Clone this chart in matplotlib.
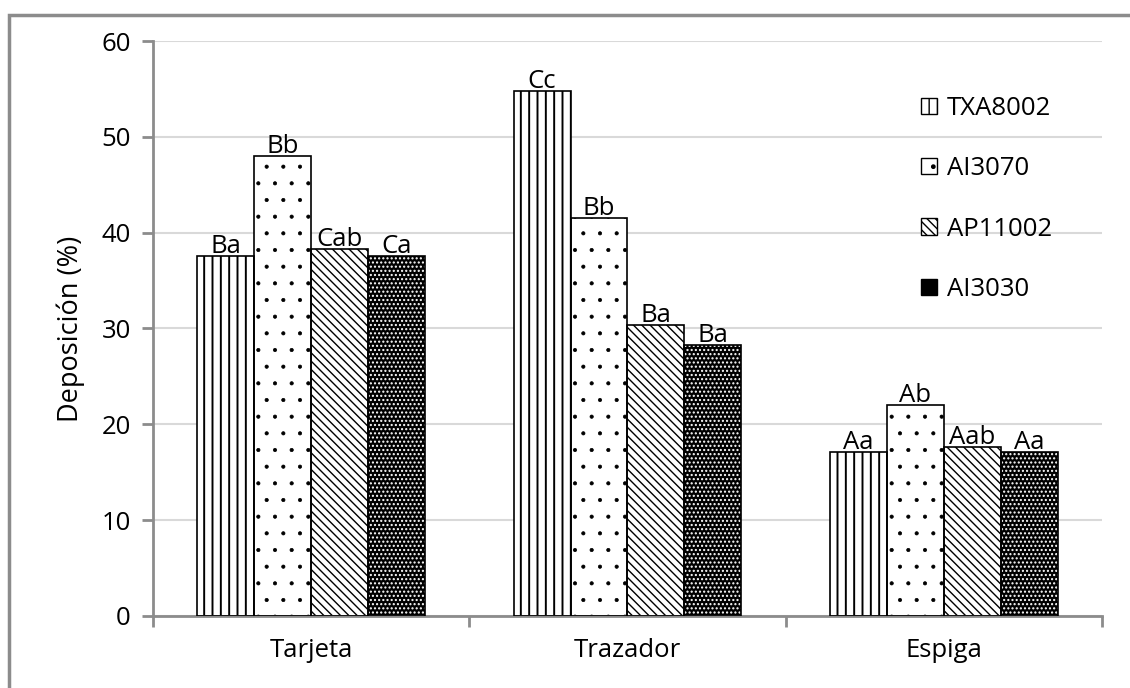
import numpy as np
import matplotlib.pyplot as plt
from matplotlib.patches import Rectangle

categories = ['Tarjeta', 'Trazador', 'Espiga']
series_names = ['TXA8002', 'AI3070', 'AP11002', 'AI3030']
txa8002 = [37.6, 54.8, 17.1]
ai3070 = [48.0, 41.5, 22.0]
ap11002 = [38.3, 30.4, 17.6]
ai3030 = [37.6, 28.3, 17.1]
letters_txa8002 = ['Ba', 'Cc', 'Aa']
letters_ai3070 = ['Bb', 'Bb', 'Ab']
letters_ap11002 = ['Cab', 'Ba', 'Aab']
letters_ai3030 = ['Ca', 'Ba', 'Aa']

plt.rcParams['font.family'] = ['Open Sans', 'DejaVu Sans']
FS = 18.5

fig = plt.figure(figsize=(11.3, 6.88), dpi=100)
ax = fig.add_axes([0.1354, 0.1047, 0.9752 - 0.1354, 0.9404 - 0.1047])

# marco exterior gris (solo visible arriba e izquierda)
fig.patches.append(Rectangle((9 / 1130, -0.05), 1.2, (688 - 15) / 688 + 0.05,
                             transform=fig.transFigure, fill=False,
                             edgecolor='#8c8c8c', linewidth=2.5))

x = np.arange(len(categories))
w = 0.18
values = [txa8002, ai3070, ap11002, ai3030]
letters = [letters_txa8002, letters_ai3070, letters_ap11002, letters_ai3030]
hatches = ['||', '.', '\\\\\\\\', '....']
faces = ['white', 'white', 'white', 'black']
hatch_cols = ['black', 'black', 'black', 'white']
hatch_lw = [1.4, 0.5, 1.0, 1.0]


def set_hlw(patch, lw):
    if hasattr(patch, 'set_hatch_linewidth'):
        patch.set_hatch_linewidth(lw)


handles = []
for i, (vals, labs) in enumerate(zip(values, letters)):
    pos = x + (i - 1.5) * w
    bars = ax.bar(pos, vals, w, facecolor=faces[i], edgecolor=hatch_cols[i],
                  hatch=hatches[i], linewidth=0, zorder=2)
    for b in bars:
        set_hlw(b, hatch_lw[i])
    ax.bar(pos, vals, w, fill=False, edgecolor='black', linewidth=1.2,
           zorder=3)
    for p, v, t in zip(pos, vals, labs):
        ax.text(p, v - 0.3, t, ha='center', va='bottom', fontsize=FS)
    h = Rectangle((0, 0), 1, 1, facecolor=faces[i], edgecolor='black',
                  hatch=hatches[i], linewidth=1)
    set_hlw(h, hatch_lw[i])
    handles.append(h)

ax.set_xlim(-0.5, 2.5)
ax.set_ylim(0, 60)
ax.set_yticks(range(0, 61, 10))
ax.set_xticks(x)
ax.set_xticklabels(categories, fontsize=FS)
ax.tick_params(axis='x', length=0, pad=16)
ax.set_xticks([-0.5, 0.5, 1.5, 2.5], minor=True)
ax.tick_params(axis='x', which='minor', length=8, color='#8c8c8c', width=2)
ax.tick_params(axis='y', labelsize=FS, length=8, color='#8c8c8c', width=2, pad=8)
ax.yaxis.grid(True, color='#d9d9d9', linewidth=1.5, zorder=0)
ax.set_axisbelow(True)
for s in ['top', 'right']:
    ax.spines[s].set_visible(False)
for s in ['left', 'bottom']:
    ax.spines[s].set_color('#8c8c8c')
    ax.spines[s].set_linewidth(2)
ax.set_ylabel('Deposición (%)', fontsize=FS + 1, labelpad=12)

leg = ax.legend(handles, series_names, loc='upper right', frameon=False,
                fontsize=FS, handlelength=0.6, handleheight=0.6,
                handletextpad=0.4, labelspacing=1.38,
                bbox_to_anchor=(0.972, 0.945))

fig.savefig('out.png', dpi=100)
